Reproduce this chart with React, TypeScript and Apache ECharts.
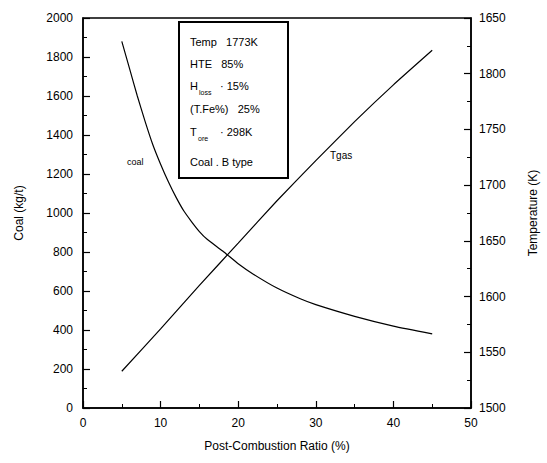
import React, { useEffect, useRef } from "react";
import * as echarts from "echarts";

const coalX = [5, 6, 7, 8, 9, 10, 11, 12, 13, 14, 15, 16, 18, 20, 22, 25, 28, 30, 35, 40, 45];
const coalY = [1880, 1740, 1600, 1470, 1350, 1250, 1160, 1080, 1010, 955, 905, 865, 805, 740, 685, 615, 560, 530, 470, 420, 380];
const tgasX = [5, 10, 15, 20, 25, 30, 35, 40, 45];
const tgasY = [1533, 1571, 1610, 1648, 1686, 1722, 1757, 1790, 1821];
const rightTickLabels: Record<number, string> = {
  1500: "1500", 1550: "1550", 1600: "1600", 1650: "1650",
  1700: "1700", 1750: "1750", 1800: "1800", 1850: "1650",
};
const FONT = "'Liberation Sans', Arial, sans-serif";

export default function App() {
  const ref = useRef<HTMLDivElement>(null);
  useEffect(() => {
    document.body.style.margin = "0";
    const chart = echarts.init(ref.current!, null, { renderer: "svg" });
    const axisCommon = {
      axisLine: { show: true, lineStyle: { color: "#000", width: 1.5 } },
      axisTick: { show: true, inside: true, length: 7, lineStyle: { color: "#000", width: 1.2 } },
      minorTick: { show: true, splitNumber: 2, length: 4, lineStyle: { color: "#000", width: 1 } },
      splitLine: { show: false },
      nameTextStyle: { color: "#000", fontSize: 12, fontFamily: FONT },
    };
    const boxX = 190;
    const txt = (text: string, x: number, y: number, size = 11) => ({
      type: "text", left: x, top: y - size / 2 - 1,
      style: { text, fill: "#000", fontSize: size, fontFamily: FONT },
    });
    chart.setOption({
      animation: false,
      grid: { left: 83, right: 75, top: 18, bottom: 55, show: true, borderColor: "#000", borderWidth: 1.5, backgroundColor: "transparent" },
      xAxis: {
        type: "value", min: 0, max: 50, interval: 10,
        name: "Post-Combustion Ratio (%)", nameLocation: "middle", nameGap: 32,
        axisLabel: { color: "#000", fontSize: 12, fontFamily: FONT, margin: 9 },
        ...axisCommon,
      },
      yAxis: [
        {
          type: "value", min: 0, max: 2000, interval: 200,
          name: "Coal (kg/t)", nameLocation: "middle", nameGap: 58, nameRotate: 90,
          axisLabel: { color: "#000", fontSize: 12, fontFamily: FONT, margin: 10, formatter: (v: number) => String(v) },
          ...axisCommon,
        },
        {
          type: "value", min: 1500, max: 1850, interval: 50, position: "right",
          name: "Temperature (K)", nameLocation: "middle", nameGap: 56, nameRotate: 90,
          axisLabel: { color: "#000", fontSize: 12, fontFamily: FONT, margin: 8, formatter: (v: number) => rightTickLabels[v] ?? String(v) },
          ...axisCommon,
        },
      ],
      series: [
        {
          type: "line", yAxisIndex: 0, showSymbol: false, smooth: 0.2,
          data: coalX.map((x, i) => [x, coalY[i]]),
          lineStyle: { color: "#000", width: 1.2 },
        },
        {
          type: "line", yAxisIndex: 1, showSymbol: false, smooth: 0.15,
          data: tgasX.map((x, i) => [x, tgasY[i]]),
          lineStyle: { color: "#000", width: 1.2 },
        },
      ],
      graphic: [
        { type: "rect", shape: { x: 179, y: 22, width: 109, height: 156 }, style: { fill: "#fff", stroke: "#000", lineWidth: 2 } },
        txt("Temp   1773K", boxX, 43),
        txt("HTE   85%", boxX, 65),
        txt("H", boxX, 87),
        txt("loss", boxX + 9, 93, 7),
        txt("· 15%", boxX + 30, 87),
        txt("(T.Fe%)   25%", boxX, 110),
        txt("T", boxX, 133),
        txt("ore", boxX + 8, 139, 7),
        txt("· 298K", boxX + 30, 133),
        txt("Coal . B type", boxX, 163),
        txt("coal", 127, 163, 9),
        txt("Tgas", 330, 156, 10),
      ],
    });
    return () => chart.dispose();
  }, []);
  return <div ref={ref} style={{ width: 547, height: 463 }} />;
}
